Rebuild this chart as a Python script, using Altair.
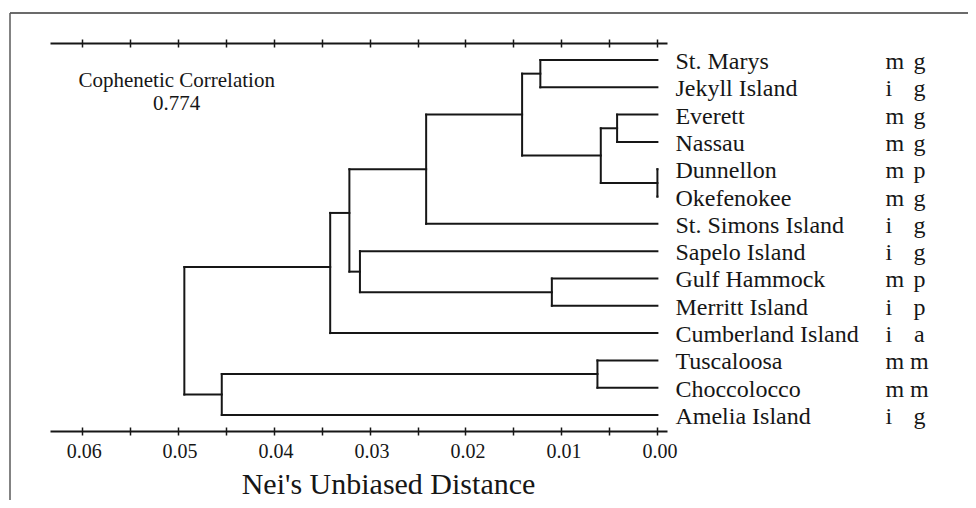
import altair as alt
import pandas as pd

# ---------------- data ----------------
leaves = ["St. Marys", "Jekyll Island", "Everett", "Nassau", "Dunnellon",
          "Okefenokee", "St. Simons Island", "Sapelo Island", "Gulf Hammock",
          "Merritt Island", "Cumberland Island", "Tuscaloosa", "Choccolocco",
          "Amelia Island"]
code1 = ["m", "i", "m", "m", "m", "m", "i", "i", "m", "i", "i", "m", "m", "i"]
code2 = ["g", "g", "g", "g", "p", "g", "g", "g", "p", "p", "a", "m", "m", "g"]

# merges: ids 0..13 are leaves, 14.. are internal nodes in order
merge_a = [0, 2, 4, 15, 14, 18, 8, 7, 19, 22, 11, 24, 23]
merge_b = [1, 3, 5, 16, 17, 6, 9, 20, 21, 10, 12, 13, 25]
merge_h = [0.0122, 0.0042, 0.0, 0.0059, 0.0141, 0.0241, 0.0110,
           0.0310, 0.0321, 0.0341, 0.00625, 0.0454, 0.0493]
# vertical position of each internal node, in leaf-row units
merge_y = [0.5, 2.5, 4.5, 3.5, 2.0, 4.0, 8.5, 7.75, 5.6, 7.58, 11.5, 12.25, 9.92]

tick_values = [0.0, 0.005, 0.01, 0.015, 0.02, 0.025, 0.03,
               0.035, 0.04, 0.045, 0.05, 0.055, 0.06]
axis_title = "Nei's Unbiased Distance"
note_lines = ["Cophenetic Correlation", "0.774"]
note_x = 0.0501
note_y = 0.99

# ---------------- build tables ----------------
n = len(leaves)
hgt = {i: 0.0 for i in range(n)}
ypos = {i: float(i) for i in range(n)}
segs = []
for k, (a, b, h, y) in enumerate(zip(merge_a, merge_b, merge_h, merge_y)):
    node = n + k
    hgt[node] = h
    ypos[node] = y
    # vertical connector
    segs.append({"x": h, "x2": h, "y": ypos[a], "y2": ypos[b]})
    # horizontal branches to the children
    for c in (a, b):
        segs.append({"x": hgt[c], "x2": h, "y": ypos[c], "y2": ypos[c]})
seg_df = pd.DataFrame(segs)

leaf_df = pd.DataFrame({"name": leaves, "c1": code1, "c2": code2,
                        "row": list(range(n)), "h": [0.0] * n})
note_df = pd.DataFrame({"t": ["\n".join(note_lines)], "x": [note_x], "y": [note_y]})

FONT = "Liberation Serif"
INK = "#161616"

xscale = alt.Scale(domain=[-0.001, 0.0633], reverse=True, nice=False, zero=False)
yscale = alt.Scale(domain=[-0.6226, 13.585], reverse=True, nice=False, zero=False)

label_expr = "abs(round(datum.value*200)) % 2 == 0 ? format(datum.value, '.2f') : ''"

ax_bottom = alt.Axis(orient="bottom", values=tick_values, labelExpr=label_expr,
                     tickSize=4, tickWidth=1.5, tickColor=INK, domainColor=INK,
                     domainWidth=2, labelFont=FONT, labelFontSize=20,
                     labelColor=INK, labelBaseline="alphabetic", labelPadding=22,
                     labelOffset=2, grid=False, title=axis_title,
                     titleFont=FONT, titleFontSize=30, titleFontWeight="normal",
                     titleColor=INK, titleX=338, titleY=62, titleAlign="center",
                     titleBaseline="alphabetic")
ax_bottom_in = alt.Axis(orient="bottom", values=tick_values, offset=-4,
                        tickSize=4, tickWidth=1.5, tickColor=INK, domain=False,
                        labels=False, grid=False, title=None)
ax_top = alt.Axis(orient="top", values=tick_values, tickSize=4, tickWidth=1.5,
                  tickColor=INK, domainColor=INK, domainWidth=2, labels=False,
                  grid=False, title=None)
ax_top_in = alt.Axis(orient="top", values=tick_values, offset=-4, tickSize=4,
                     tickWidth=1.5, tickColor=INK, domain=False, labels=False,
                     grid=False, title=None)

tree = alt.Chart(seg_df).mark_rule(color=INK, strokeWidth=2, strokeCap="square").encode(
    x=alt.X("x:Q", scale=xscale, axis=ax_bottom),
    x2="x2:Q",
    y=alt.Y("y:Q", scale=yscale, axis=None),
    y2="y2:Q",
)

names = alt.Chart(leaf_df).mark_text(font=FONT, fontSize=24, color=INK, align="left",
                                     baseline="alphabetic", dx=18, dy=9).encode(
    x=alt.X("h:Q", scale=xscale, axis=ax_bottom_in),
    y=alt.Y("row:Q", scale=yscale, axis=None),
    text="name:N",
)

c1 = alt.Chart(leaf_df).mark_text(font=FONT, fontSize=24, color=INK, align="left",
                                  baseline="alphabetic", dx=228, dy=9).encode(
    x=alt.X("h:Q", scale=xscale, axis=ax_top),
    y=alt.Y("row:Q", scale=yscale, axis=None),
    text="c1:N",
)

c2 = alt.Chart(leaf_df).mark_text(font=FONT, fontSize=24, color=INK, align="center",
                                  baseline="alphabetic", dx=262, dy=9).encode(
    x=alt.X("h:Q", scale=xscale, axis=ax_top_in),
    y=alt.Y("row:Q", scale=yscale, axis=None),
    text="c2:N",
)

note = alt.Chart(note_df).mark_text(font=FONT, fontSize=21, color=INK, align="center",
                                    baseline="alphabetic", lineBreak="\n",
                                    lineHeight=23).encode(
    x=alt.X("x:Q", scale=xscale, axis=None),
    y=alt.Y("y:Q", scale=yscale, axis=None),
    text="t:N",
)

frame_top = alt.Chart(note_df).mark_rule(color="#3a3a3a", strokeWidth=1.5).encode(
    x=alt.value(-40), x2=alt.value(920), y=alt.value(-30))
frame_left = alt.Chart(note_df).mark_rule(color="#5a5a5a", strokeWidth=1.5).encode(
    x=alt.value(-40), y=alt.value(-30), y2=alt.value(460))

chart = alt.layer(tree, names, c1, c2, note, frame_top, frame_left).resolve_axis(
    x="independent"
).properties(
    width=617, height=388,
    autosize=alt.AutoSizeParams(type="none"),
    padding={"left": 42, "top": 35, "right": 301, "bottom": 69},
    background="white",
).configure_view(stroke=None)

chart.save("out.html", embed_options={"renderer": "svg", "actions": False})
